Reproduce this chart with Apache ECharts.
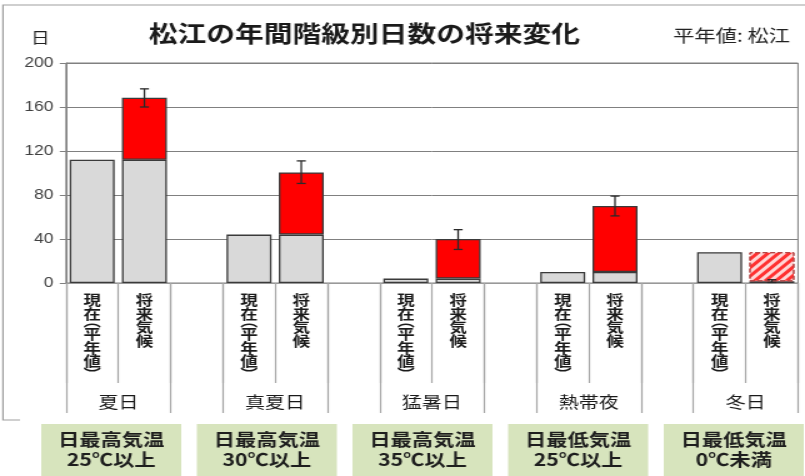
<!DOCTYPE html>
<html>
<head>
<meta charset="utf-8">
<script src="https://cdn.jsdelivr.net/npm/echarts@6/dist/echarts.min.js"></script>
<style>
html,body{margin:0;padding:0;background:#fff;overflow:hidden;width:805px;height:476px;}
#c{width:644px;height:476px;transform:scaleX(1.25);transform-origin:0 0;}
</style>
</head>
<body>
<div id="c"></div>
<script>
// ---- data ----
const groups = ['夏日', '真夏日', '猛暑日', '熱帯夜', '冬日'];
const slotLabels = ['現在(平年値)', '将来気候'];
const conditions = ['日最高気温\n25℃以上', '日最高気温\n30℃以上', '日最高気温\n35℃以上', '日最低気温\n25℃以上', '日最低気温\n0℃未満'];
const currentDays = [112, 44, 4, 10, 28];
const futureDays = [168.5, 100.5, 40, 70, 1.5];
const futureLow = [160, 90.5, 30.5, 61, 0.5];
const futureHigh = [176.5, 111, 48.5, 79, 3];
const yMin = 0, yMax = 200, yStep = 40;

// ---- build ----
const CJK = '"Noto Sans CJK JP", "Noto Sans CJK SC", sans-serif';
const cats = [];
const baseData = [], incData = [], decData = [], errData = [];
groups.forEach((g, i) => {
  const cur = currentDays[i], fut = futureDays[i];
  cats.push(slotLabels[0]);
  baseData.push(cur); incData.push('-'); decData.push('-');
  cats.push(slotLabels[1]);
  const fi = cats.length - 1;
  baseData.push(Math.min(cur, fut));
  incData.push(fut > cur ? +(fut - cur).toFixed(2) : '-');
  decData.push(cur > fut ? +(cur - fut).toFixed(2) : '-');
  errData.push([fi, futureLow[i], futureHigh[i]]);
  if (i < groups.length - 1) {
    cats.push('');
    baseData.push('-'); incData.push('-'); decData.push('-');
  }
});
// boundary axis: one entry per slot edge
const edges = [];
for (let k = 0; k <= cats.length; k++) edges.push('');
groups.forEach((g, i) => { edges[i * 3 + 1] = g; });

function vertical(s) {
  return s.split('').map(ch => {
    if (ch === '(') return '{po|︵}';
    if (ch === ')') return '{pc|︶}';
    return '{c|' + ch + '}';
  }).join('\n');
}

const W = 644;
const chart = echarts.init(document.getElementById('c'), null, {width: W, height: 476});

const boxGraphics = [];
conditions.forEach((t, i) => {
  const left = 33 + i * 124.5;
  boxGraphics.push({type: 'rect', shape: {x: left, y: 424, width: 112, height: 52}, style: {fill: '#d7e4bd'}, z: 10});
  boxGraphics.push({type: 'text', x: left + 56, y: 450, z: 11,
    style: {text: t, textAlign: 'center', textVerticalAlign: 'middle', fontSize: 17, fontWeight: 'bold',
      fontFamily: CJK, lineHeight: 20, fill: '#1e1e1e'}});
});

const labelBase = {fontSize: 14, fontWeight: 'bold', fontFamily: CJK, color: '#1a1a1a'};
const option = {
  animation: false,
  backgroundColor: '#fff',
  title: [
    {text: '松江の年間階級別日数の将来変化', left: 119, top: 22, padding: 0,
      textStyle: {fontSize: 23, fontWeight: 'bold', fontFamily: CJK, color: '#1a1a1a'}},
    {text: '平年値: 松江', right: 12, top: 27, padding: 0,
      textStyle: {fontSize: 17, fontWeight: 'normal', fontFamily: CJK, color: '#222'}}
  ],
  grid: {left: 52.8, right: 5.6, top: 63, bottom: 193, show: true, borderColor: '#808080', borderWidth: 1, backgroundColor: 'transparent'},
  xAxis: [
    {type: 'category', data: cats, position: 'bottom', boundaryGap: true,
      axisLine: {lineStyle: {color: '#999', width: 1}},
      axisTick: {show: true, interval: 0, length: 100, lineStyle: {color: '#a6a6a6', width: 1.2}},
      axisLabel: {interval: 0, formatter: v => v ? vertical(v) : '', margin: 10, verticalAlign: 'top',
        rich: {
          c: Object.assign({lineHeight: 13.5}, labelBase),
          po: Object.assign({lineHeight: 7, padding: [0, 0, 6, 0]}, labelBase),
          pc: Object.assign({lineHeight: 7, padding: [6, 0, 0, 0]}, labelBase)
        }}},
    {type: 'category', data: edges, position: 'bottom', boundaryGap: false,
      axisLine: {show: false},
      axisTick: {show: true, length: 130, interval: (idx) => idx % 3 !== 1, lineStyle: {color: '#a6a6a6', width: 1.2}},
      axisLabel: {interval: 0, fontSize: 16, fontFamily: CJK, color: '#1a1a1a', margin: 119, verticalAlign: 'middle'}}
  ],
  yAxis: {type: 'value', min: yMin, max: yMax, interval: yStep,
    name: '日', nameLocation: 'end', nameGap: 25.5,
    nameTextStyle: {fontSize: 15, fontFamily: CJK, color: '#222', align: 'right', verticalAlign: 'middle', padding: [0, 13, 0, 0]},
    axisLine: {show: true, lineStyle: {color: '#808080'}},
    axisTick: {show: true, length: 5, lineStyle: {color: '#808080'}},
    axisLabel: {fontSize: 14, color: '#404040', margin: 10, fontFamily: '"Liberation Sans", Arial, sans-serif'},
    splitLine: {lineStyle: {color: '#808080', width: 1}}},
  series: [
    {name: '現在', type: 'bar', stack: 'a', data: baseData, barWidth: '86%',
      itemStyle: {color: '#d9d9d9', borderColor: '#3a3a3a', borderWidth: 1.3}},
    {name: '増加', type: 'bar', stack: 'a', data: incData, barWidth: '86%',
      itemStyle: {color: '#ff0000', borderColor: '#3a3a3a', borderWidth: 1.3}},
    {name: '減少', type: 'bar', stack: 'a', data: decData, barWidth: '86%',
      itemStyle: {color: '#ffd6d6', borderColor: '#b04040', borderWidth: 1, borderType: 'dashed',
        decal: {symbol: 'rect', symbolSize: 1, color: '#ff3030', dashArrayX: [1, 0], dashArrayY: [2.5, 2.5], rotation: -Math.PI / 4}}},
    {name: '幅', type: 'custom', data: errData, encode: {x: 0, y: [1, 2]}, z: 5,
      renderItem: (params, api) => {
        const lo = api.coord([api.value(0), api.value(1)]);
        const hi = api.coord([api.value(0), api.value(2)]);
        const c = 3.6;
        const st = {stroke: '#2a2a2a', lineWidth: 1.3};
        return {type: 'group', children: [
          {type: 'line', shape: {x1: lo[0], y1: lo[1], x2: hi[0], y2: hi[1]}, style: st},
          {type: 'line', shape: {x1: lo[0] - c, y1: lo[1], x2: lo[0] + c, y2: lo[1]}, style: st},
          {type: 'line', shape: {x1: hi[0] - c, y1: hi[1], x2: hi[0] + c, y2: hi[1]}, style: st}
        ]};
      }}
  ],
  graphic: [
    {type: 'polyline', shape: {points: [[16, 420], [2.4, 420], [2.4, 5], [W, 5]]}, style: {stroke: '#a0a0a0', lineWidth: 1.2, fill: null}},
    ...boxGraphics
  ]
};
chart.setOption(option);
</script>
</body>
</html>
